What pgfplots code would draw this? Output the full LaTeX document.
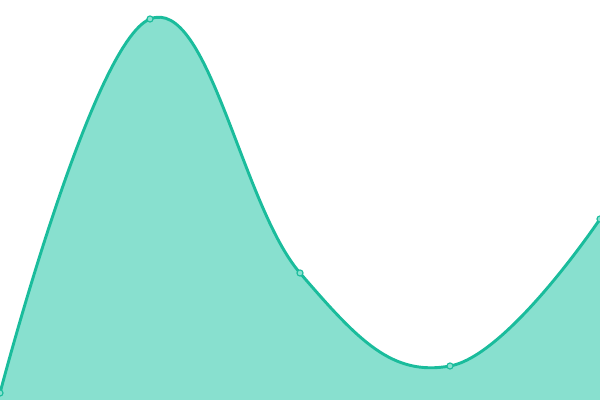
\documentclass[border=0pt]{standalone}
\usepackage{pgfplots}
\pgfplotsset{compat=1.18}
\definecolor{linec}{RGB}{26,188,156}
\definecolor{fillc}{RGB}{136,224,207}
\begin{document}
\begin{tikzpicture}
\begin{axis}[
  scale only axis, width=6in, height=4in,
  xmin=0, xmax=600, ymin=0, ymax=400,
  hide axis, clip=true, clip marker paths=true,
]
\addplot[draw=none, fill=fillc, smooth, tension=0.7] coordinates {(0,7) (150,381) (300,127) (450,34) (600,181)} \closedcycle;
\addplot[linec, line width=2.1bp, smooth, tension=0.7, mark=*, mark size=2.2bp, mark options={fill=fillc, draw=linec, line width=0.8bp}] coordinates {(0,7) (150,381) (300,127) (450,34) (600,181)};
\end{axis}
\end{tikzpicture}
\end{document}
